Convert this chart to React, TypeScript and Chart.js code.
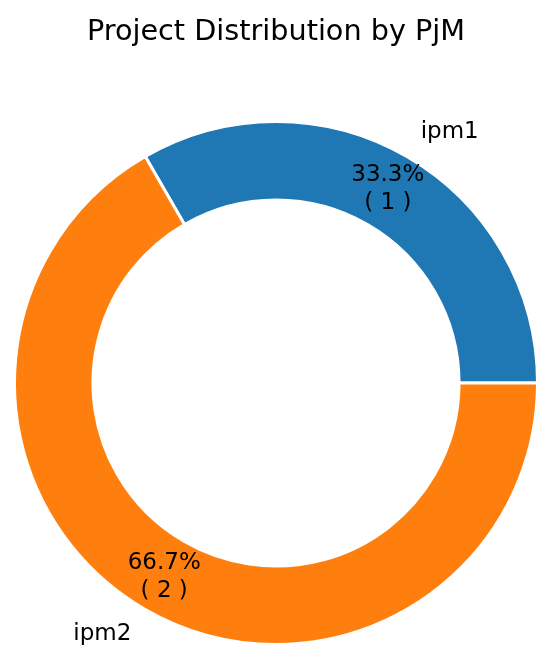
import React, { useEffect, useRef } from "react";
import { Chart, registerables } from "chart.js";

Chart.register(...registerables);

const TITLE = "Project Distribution by PjM";
const categories = ["ipm1", "ipm2"];
const counts = [1, 2];
const colors = ["#1f77b4", "#ff7f0e"];

const FONT = "'DejaVu Sans', sans-serif";

const textPlugin = {
  id: "pieText",
  afterDraw(chart: any) {
    const ctx = chart.ctx;
    const meta = chart.getDatasetMeta(0);
    const total = counts.reduce((a, b) => a + b, 0);
    ctx.save();
    ctx.fillStyle = "#000";
    // title
    ctx.font = `28.7px ${FONT}`;
    ctx.textAlign = "center";
    ctx.textBaseline = "middle";
    ctx.fillText(TITLE, 276, 33);
    meta.data.forEach((arc: any, i: number) => {
      const mid = (arc.startAngle + arc.endAngle) / 2;
      const R = arc.outerRadius + 1.5;
      const cx = arc.x;
      const cy = arc.y;
      const c = Math.cos(mid);
      const s = Math.sin(mid);
      ctx.font = `23px ${FONT}`;
      // category label
      ctx.textAlign = c >= 0 ? "left" : "right";
      ctx.textBaseline = "middle";
      ctx.fillText(categories[i], cx + 1.1 * R * c, cy + 1.1 * R * s);
      // pct label
      const px = cx + 0.85 * R * c;
      const py = cy + 0.85 * R * s;
      const pct = ((counts[i] / total) * 100).toFixed(1) + "%";
      const lh = 28;
      ctx.textAlign = "center";
      ctx.fillText(pct, px, py - lh / 2);
      ctx.fillText(`( ${counts[i]} )`, px, py + lh / 2);
    });
    ctx.restore();
  },
};

export default function App() {
  const ref = useRef<HTMLCanvasElement | null>(null);
  useEffect(() => {
    if (!ref.current) return;
    const chart = new Chart(ref.current, {
      type: "doughnut",
      data: {
        labels: categories,
        datasets: [
          {
            data: counts,
            backgroundColor: colors,
            borderColor: "#ffffff",
            borderWidth: 3,
            hoverOffset: 0,
          },
        ],
      },
      options: {
        responsive: false,
        animation: false,
        rotation: -30,
        cutout: "70%",
        layout: { padding: { left: 13, right: 11, top: 119.5, bottom: 12.5 } },
        plugins: {
          legend: { display: false },
          title: { display: false },
          tooltip: { enabled: false },
        },
      },
      plugins: [textPlugin],
    });
    return () => chart.destroy();
  }, []);
  return (
    <div style={{ position: "fixed", left: 0, top: 0, width: 550, height: 659, background: "#fff" }}>
      <canvas ref={ref} width={550} height={659} style={{ width: 550, height: 659, display: "block" }} />
    </div>
  );
}
